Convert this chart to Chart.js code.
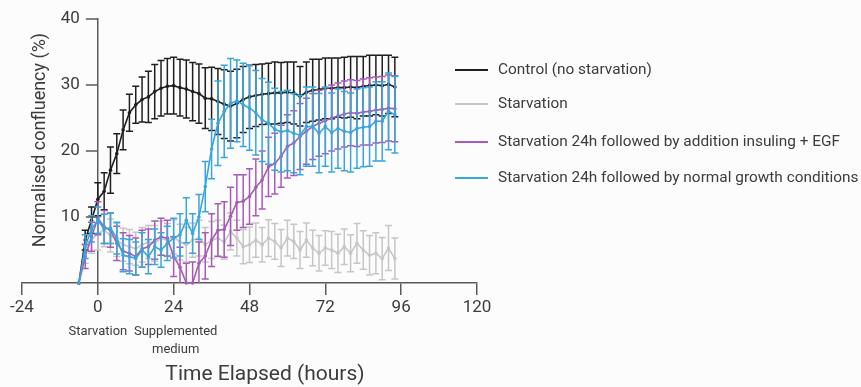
<!DOCTYPE html>
<html><head><meta charset="utf-8">
<script src="https://cdn.jsdelivr.net/npm/chart.js@4.4.1/dist/chart.umd.min.js"></script>
<style>html,body{margin:0;padding:0;background:#fcfcfc}#wrap{width:861px;height:387px}</style>
</head><body><div id="wrap"><canvas id="c" width="861" height="387"></canvas></div>
<script>
const hours = [-6,-4,-2,0,2,4,6,8,10,12,14,16,18,20,22,24,26,28,30,32,34,36,38,40,42,44,46,48,50,52,54,56,58,60,62,64,66,68,70,72,74,76,78,80,82,84,86,88,90,92,94];
const xTicks = [-24,0,24,48,72,96,120];
const yTicks = [10,20,30,40];
const seriesNames = ["Control (no starvation)","Starvation","Starvation 24h followed by addition insuling + EGF","Starvation 24h followed by normal growth conditions"];
const eventLabels = [["Starvation"],["Supplemented","medium"]];
const eventHours = [0,24];

const control = [0,6.5,9.5,12.7,13.9,17.1,19.6,23.2,25.8,27.0,27.8,28.2,29.0,29.5,29.8,29.9,29.6,29.4,29.0,28.7,28.0,27.9,27.5,27.1,26.8,27.2,27.8,28.2,28.4,28.6,28.7,28.8,28.8,28.9,28.8,28.3,28.9,29.2,29.3,29.5,29.5,29.6,29.6,29.7,29.6,29.8,29.9,30.0,29.9,30.1,29.7];
const controlErr = [0,1.5,2.0,2.5,2.8,3.5,3.0,3.0,2.8,2.8,3.4,3.9,4.1,4.2,4.2,4.3,4.3,4.4,4.4,4.5,4.6,4.8,5.0,5.2,5.3,5.2,5.0,4.8,4.7,4.6,4.6,4.7,4.6,4.6,4.7,4.5,4.6,4.7,4.6,4.6,4.6,4.5,4.6,4.6,4.7,4.5,4.6,4.5,4.6,4.4,4.5];
const starvation = [0,4.5,6.5,7.5,8.0,7.2,6.5,5.8,5.5,5.2,5.8,6.2,6.0,6.8,6.5,7.0,6.2,5.8,6.5,6.8,5.8,6.5,6.8,6.2,7.8,6.8,5.5,5.8,6.5,5.8,6.8,6.3,5.3,6.8,6.3,5.0,6.5,5.3,4.5,5.3,5.0,4.5,5.5,4.5,6.0,5.0,4.2,4.5,3.7,5.3,3.7];
const starvationErr = [0,1.5,2.0,2.5,2.5,2.5,2.5,2.5,2.6,2.5,2.6,2.5,2.7,2.6,2.5,2.6,2.7,2.6,2.6,2.7,2.6,2.8,2.7,2.6,2.8,2.7,2.6,2.7,2.6,2.6,2.8,2.7,2.8,2.7,2.6,2.8,2.6,2.7,2.7,2.6,2.8,2.9,2.7,2.8,3.0,2.9,3.0,3.1,3.2,3.4,3.1];
const insulinEgf = [0,4.0,7.0,9.8,8.5,8.0,6.0,4.8,4.5,4.0,5.2,5.5,6.5,7.0,6.8,4.0,2.4,0.0,0.0,3.0,4.1,6.5,8.0,8.1,10.1,12.2,12.4,13.1,14.5,15.6,17.6,18.1,19.2,20.7,21.2,22.2,23.0,23.7,24.2,24.6,25.0,25.3,25.6,25.8,25.7,25.9,26.0,26.2,26.3,26.5,26.4];
const insulinEgfErr = [0,1.8,2.2,2.5,2.5,2.6,2.6,2.8,2.7,2.8,2.8,2.7,2.9,2.8,2.7,3.0,3.0,3.0,3.2,3.2,3.5,4.0,4.0,4.2,4.4,4.2,4.0,4.2,4.3,4.4,4.5,4.6,4.7,4.8,4.9,5.0,5.0,5.0,5.0,5.0,5.0,5.0,5.0,5.0,5.0,5.0,5.1,5.0,5.0,5.0,5.0];
const normalGrowth = [0,5.5,8.2,9.5,8.2,8.3,6.8,4.2,4.0,3.7,5.0,4.0,5.5,5.0,6.0,6.8,7.3,9.5,7.5,10.0,14.6,20.3,24.2,26.0,27.2,27.6,27.0,26.5,25.8,24.7,24.2,23.3,22.9,23.1,22.7,22.4,23.7,23.7,22.7,23.7,22.8,23.4,23.0,22.8,23.4,23.6,23.7,24.5,24.5,26.0,25.5];
const normalGrowthErr = [0,1.8,2.0,2.0,2.2,2.3,2.4,2.5,2.6,2.5,2.6,2.6,2.7,2.6,2.6,3.0,3.2,3.4,3.0,3.4,3.8,4.5,6.4,7.0,6.8,6.2,6.3,6.4,6.4,6.3,6.2,6.2,6.1,6.1,6.0,6.0,6.0,6.0,6.0,6.0,6.0,6.0,6.0,6.0,6.0,6.0,6.0,6.0,6.0,5.8,5.8];

const colors = ['#1f1f1f','#c6c6c6','#a65cb6','#38a6dc'];
const values = [control, starvation, insulinEgf, normalGrowth];
const errors = [controlErr, starvationErr, insulinEgfErr, normalGrowthErr];
const drawOrder = [2,3,1,0];

const FONT = 'Roboto, "Open Sans", sans-serif';
const TXT = '#3c3c3c';
const AX = '#5a5a5a';

const datasets = seriesNames.map((n, k) => ({
  label: n,
  data: hours.map((h, i) => ({x: h, y: values[k][i]})),
  errors: errors[k],
  borderColor: colors[k],
  backgroundColor: colors[k],
  borderWidth: 1.6,
  pointRadius: 1.8,
  pointBorderWidth: 0,
  tension: 0,
  clip: false,
  order: drawOrder[k]
}));

const errorBars = {
  id: 'errorBars',
  beforeDatasetDraw(chart, args) {
    const ds = chart.data.datasets[args.index];
    const xs = chart.scales.x, ys = chart.scales.y;
    const ctx = chart.ctx;
    ctx.save();
    ctx.strokeStyle = ds.borderColor;
    ctx.lineWidth = 1.5;
    ds.data.forEach((p, i) => {
      const e = ds.errors[i];
      if (!e) return;
      const x = xs.getPixelForValue(p.x);
      const y1 = ys.getPixelForValue(p.y + e);
      const y2 = ys.getPixelForValue(Math.max(p.y - e, 0));
      const c = 3.5;
      ctx.beginPath();
      ctx.moveTo(x, y1); ctx.lineTo(x, y2);
      ctx.moveTo(x - c, y1); ctx.lineTo(x + c, y1);
      if (p.y - e > 0) { ctx.moveTo(x - c, y2); ctx.lineTo(x + c, y2); }
      ctx.stroke();
    });
    ctx.restore();
  }
};

const decorations = {
  id: 'decorations',
  afterDraw(chart) {
    const ctx = chart.ctx;
    const xs = chart.scales.x, ys = chart.scales.y;
    ctx.save();
    // y ticks and labels
    const ax = xs.getPixelForValue(0);
    ctx.strokeStyle = AX; ctx.lineWidth = 1.5;
    ctx.fillStyle = TXT;
    ctx.font = '17px ' + FONT;
    ctx.textAlign = 'right'; ctx.textBaseline = 'middle';
    yTicks.forEach(v => {
      const y = ys.getPixelForValue(v);
      ctx.beginPath(); ctx.moveTo(ax - 12, y); ctx.lineTo(ax, y); ctx.stroke();
      ctx.fillText(String(v), ax - 18, y);
    });
    // legend
    const legY = [70, 104, 142, 178];
    ctx.font = '15.4px ' + FONT;
    ctx.textAlign = 'left';
    seriesNames.forEach((n, k) => {
      ctx.strokeStyle = colors[k];
      ctx.lineWidth = 2;
      ctx.beginPath(); ctx.moveTo(455, legY[k]); ctx.lineTo(488, legY[k]); ctx.stroke();
      ctx.fillStyle = TXT;
      ctx.fillText(n, 498, legY[k]);
    });
    // event labels
    ctx.font = '13px ' + FONT;
    ctx.textAlign = 'center';
    eventLabels.forEach((lines, j) => {
      const x = xs.getPixelForValue(eventHours[j]) + (j === 1 ? 2 : 0);
      lines.forEach((l, r) => ctx.fillText(l, x, 332 + r * 18));
    });
    // x title
    ctx.font = '21px ' + FONT;
    ctx.fillText('Time Elapsed (hours)', 265, 375);
    // y title
    ctx.font = '18px ' + FONT;
    ctx.translate(40, 140);
    ctx.rotate(-Math.PI / 2);
    ctx.fillText('Normalised confluency (%)', 0, 0);
    ctx.restore();
  }
};

new Chart(document.getElementById('c'), {
  type: 'line',
  data: { datasets },
  plugins: [errorBars, decorations],
  options: {
    responsive: false,
    animation: false,
    devicePixelRatio: 1,
    layout: { padding: { left: 22, right: 384, top: 19, bottom: 64 } },
    plugins: { legend: { display: false }, tooltip: { enabled: false } },
    scales: {
      x: {
        type: 'linear', min: -24, max: 120,
        afterBuildTicks(s) { s.ticks = xTicks.map(v => ({value: v})); },
        afterFit(s) { s.height = 40; },
        grid: { drawOnChartArea: false, drawTicks: true, tickLength: 12, color: AX, lineWidth: 1.5 },
        border: { color: AX, width: 1.5 },
        ticks: { color: TXT, font: { family: FONT, size: 17 }, padding: 3, maxRotation: 0 }
      },
      y: {
        type: 'linear', min: 0, max: 40,
        position: { x: 0 },
        grid: { drawOnChartArea: false, drawTicks: false },
        border: { color: AX, width: 1.5 },
        ticks: { display: false }
      }
    }
  }
});
</script></body></html>
